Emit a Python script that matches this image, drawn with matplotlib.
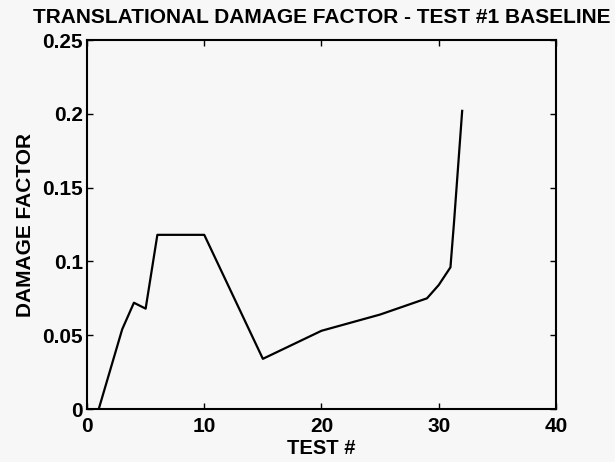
import matplotlib
matplotlib.use('Agg')
import matplotlib.pyplot as plt

# data
test_no = [1, 3, 4, 5, 6, 10, 15, 20, 25, 29, 30, 31, 31.3, 32]
damage = [0.0, 0.054, 0.072, 0.068, 0.118, 0.118, 0.034, 0.053, 0.064, 0.075, 0.084, 0.096, 0.126, 0.202]

x_ticks = [0, 10, 20, 30, 40]
y_ticks = [0, 0.05, 0.1, 0.15, 0.2, 0.25]
y_tick_labels = ['0', '0.05', '0.1', '0.15', '0.2', '0.25']

plt.rcParams['font.family'] = ['Liberation Sans', 'DejaVu Sans']
plt.rcParams['font.weight'] = 'bold'

bg = '#f7f7f7'
fig = plt.figure(figsize=(6.15, 4.62), dpi=100, facecolor=bg)
ax = fig.add_axes([0.1415, 0.1147, 0.7625, 0.7987], facecolor=bg)

ax.plot(test_no, damage, color='black', linewidth=1.6)

ax.set_xlim(0, 40)
ax.set_ylim(0, 0.25)
ax.set_xticks(x_ticks)
ax.set_yticks(y_ticks)
ax.set_yticklabels(y_tick_labels)
ax.tick_params(direction='in', length=4, width=1, top=True, right=True,
               labelsize=15)
ax.tick_params(axis='x', pad=6)
ax.tick_params(axis='y', pad=3)
for s in ax.spines.values():
    s.set_linewidth(1.5)

ax.set_xlabel('TEST #', fontsize=14.5, fontweight='bold', labelpad=2)
ax.set_ylabel('DAMAGE FACTOR', fontsize=15, fontweight='bold', labelpad=5)
ax.set_title('TRANSLATIONAL DAMAGE FACTOR - TEST #1 BASELINE',
             fontsize=15, fontweight='bold', pad=12)

fig.savefig('out.png', dpi=100, facecolor=bg)
